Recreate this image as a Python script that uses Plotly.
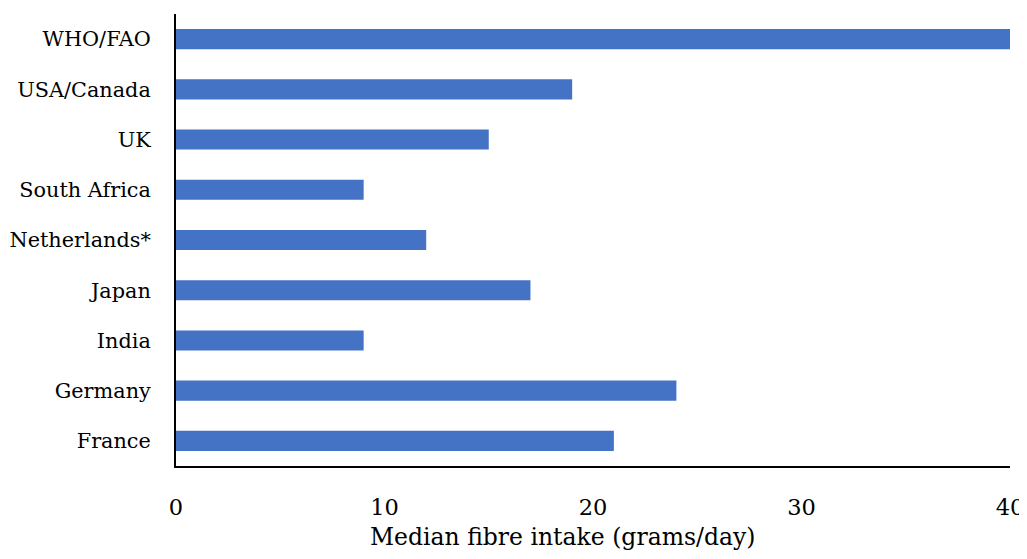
import plotly.graph_objects as go

categories = ["France", "Germany", "India", "Japan", "Netherlands*", "South Africa", "UK", "USA/Canada", "WHO/FAO"]
values = [21, 24, 9, 17, 12, 9, 15, 19, 40]
x_ticks = [0, 10, 20, 30, 40]
x_title = "Median fibre intake (grams/day)"

FONT = "DejaVu Serif"

fig = go.Figure(go.Bar(
    y=categories, x=values, orientation="h",
    marker=dict(color="#4472C4", line=dict(width=0)),
))

# The page body adds an 8px offset; the figure is sized to fill the rest of the window.
fig.update_layout(
    width=1019, height=543, autosize=False,
    margin=dict(l=168, r=17, t=6, b=85, autoexpand=False),
    paper_bgcolor="white", plot_bgcolor="white",
    bargap=0.6,
    showlegend=False,
    font=dict(family=FONT, color="black", size=22),
    xaxis=dict(
        range=[0, 40], tickvals=x_ticks, showgrid=False, zeroline=False,
        showline=True, linecolor="black", linewidth=2, ticks="",
        ticklabelstandoff=20, tickfont=dict(size=22.5), automargin=False,
    ),
    yaxis=dict(
        categoryorder="array", categoryarray=categories,
        showgrid=False, zeroline=False,
        showline=True, linecolor="black", linewidth=2, ticks="",
        ticklabelstandoff=19, tickfont=dict(size=20.8), automargin=False,
    ),
    annotations=[dict(
        text=x_title, xref="paper", yref="paper",
        x=0.464, y=-0.158, xanchor="center", yanchor="middle",
        showarrow=False, font=dict(size=23.5),
    )],
)

fig.write_html("out.html")
